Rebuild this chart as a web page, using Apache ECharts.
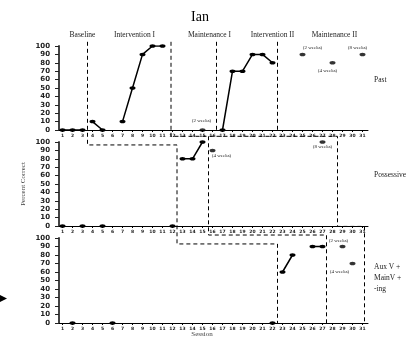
<!DOCTYPE html>
<html><head><meta charset="utf-8">
<script src="https://cdn.jsdelivr.net/npm/echarts@6/dist/echarts.min.js"></script>
<style>html,body{margin:0;padding:0;background:#fff}#c{width:411px;height:338px}</style>
</head><body><div id="c"></div>
<script>
const N = null;
const sessions = [1,2,3,4,5,6,7,8,9,10,11,12,13,14,15,16,17,18,19,20,21,22,23,24,25,26,27,28,29,30,31];
const yTicks = [0,10,20,30,40,50,60,70,80,90,100];
const title = 'Ian';
const phaseNames = ['Baseline','Intervention I','Maintenance I','Intervention II','Maintenance II'];
const panelNames = ['Past','Possessive','Aux V +\nMainV +\n-ing'];
//                 1 2 3 4  5 6 7  8  9  10  11  12 13 14 15  16 17 18 19 20 21 22 23 24 25 26 27 28 29 30 31
const pastBaseline  = [0,0,0,N, N,N,N, N, N, N,  N,  N, N, N, N,  N, N, N, N, N, N, N, N, N, N, N, N, N, N, N, N];
const pastTreatment = [N,N,N,10,0,N,10,50,90,100,100,N, N, N, N,  N, 0,70,70,90,90,80, N, N, N, N, N, N, N, N, N];
const pastProbes    = [N,N,N,N, N,N,N, N, N, N,  N,  N, N, N, 0,  N, N, N, N, N, N, N, N, N,90, N, N,80, N, N,90];
const possBaseline  = [0,N,0,N, 0,N,N, N, N, N,  N,  0, N, N, N,  N, N, N, N, N, N, N, N, N, N, N, N, N, N, N, N];
const possTreatment = [N,N,N,N, N,N,N, N, N, N,  N,  N,80,80,100, N, N, N, N, N, N, N, N, N, N, N, N, N, N, N, N];
const possProbes    = [N,N,N,N, N,N,N, N, N, N,  N,  N, N, N, N, 90, N, N, N, N, N, N, N, N, N, N,100,N, N, N, N];
const auxBaseline   = [N,0,N,N, N,0,N, N, N, N,  N,  N, N, N, N,  N, N, N, N, N, N, 0, N, N, N, N, N, N, N, N, N];
const auxTreatment  = [N,N,N,N, N,N,N, N, N, N,  N,  N, N, N, N,  N, N, N, N, N, N, N,60,80, N,90,90, N, N, N, N];
const auxProbes     = [N,N,N,N, N,N,N, N, N, N,  N,  N, N, N, N,  N, N, N, N, N, N, N, N, N, N, N, N, N,90,70, N];
const probeNotes = [
  {panel:0, session:15, text:'(2 weeks)'}, {panel:0, session:25, text:'(2 weeks)'},
  {panel:0, session:28, text:'(4 weeks)'}, {panel:0, session:31, text:'(8 weeks)'},
  {panel:1, session:16, text:'(4 weeks)'}, {panel:1, session:27, text:'(8 weeks)'},
  {panel:2, session:29, text:'(2 weeks)'}, {panel:2, session:30, text:'(4 weeks)'}
];

const panels = [
  {base: pastBaseline, treat: pastTreatment, probe: pastProbes},
  {base: possBaseline, treat: possTreatment, probe: possProbes},
  {base: auxBaseline, treat: auxTreatment, probe: auxProbes}
];
const probeValues = [pastProbes, possProbes, auxProbes];

const chart = echarts.init(document.getElementById('c'), null, {renderer:'canvas'});
const gridTops = [46, 142, 238];
const gridHeights = [84, 84, 85];
const serif = 'Liberation Serif';
const sans = 'DejaVu Sans';

function pairs(vals){ return sessions.map((s,i)=>[s, vals[i]===null ? '-' : vals[i]]); }
function pts(vals){ return sessions.map((s,i)=>[s, vals[i]]).filter(p=>p[1]!==null); }

const grids = [], xAxes = [], yAxes = [], series = [];
panels.forEach((p, k) => {
  grids.push({left:59, width:309, top:gridTops[k], height:gridHeights[k]});
  xAxes.push({type:'value', gridIndex:k, min:0.65, max:31.55,
    axisLine:{show:true, onZero:false, lineStyle:{color:'#000', width:1}},
    axisTick:{show:true, customValues:sessions, length:2, lineStyle:{color:'#000', width:1}},
    axisLabel:{show:true, customValues:sessions, fontSize:4.5, fontWeight:'bold', fontFamily:sans, color:'#222', margin:3},
    splitLine:{show:false}});
  yAxes.push({type:'value', gridIndex:k, min:0, max:100, interval:10,
    axisLine:{show:true, lineStyle:{color:'#444', width:2}},
    axisTick:{show:true, length:4, lineStyle:{color:'#222', width:1}},
    axisLabel:{fontSize:7, fontWeight:'bold', fontFamily:sans, color:'#222', margin:9},
    splitLine:{show:false}});
  const lineCommon = {type:'line', xAxisIndex:k, yAxisIndex:k, connectNulls:false,
    symbol:'circle', symbolSize:[6,3.5], showAllSymbol:true,
    itemStyle:{color:'#000'}, lineStyle:{color:'#000', width:1.5}, animation:false, z:5};
  series.push(Object.assign({}, lineCommon, {data: pairs(p.base)}));
  series.push(Object.assign({}, lineCommon, {data: pairs(p.treat)}));
  series.push({type:'scatter', xAxisIndex:k, yAxisIndex:k, symbol:'circle', symbolSize:[6,3.5],
    itemStyle:{color:'#000'}, data: pts(p.probe), animation:false, z:5});
});

chart.setOption({
  animation:false,
  grid: grids, xAxis: xAxes, yAxis: yAxes, series: series
});

// phase / staircase lines (data space per panel)
const dashedPaths = [
  [[0,3.5,105],[1,3.5,96.5],[1,12.45,96.5],[2,12.45,93],[2,22.5,93],[2,22.5,0]],
  [[0,11.85,105],[0,11.85,-7.5],[0,28.5,-7.5],[1,28.5,-0.5],[1,31.2,-0.5],[2,31.2,0]],
  [[0,15.6,-7.5],[2,15.6,103.5],[2,27.4,103.5],[2,27.4,0]],
  [[0,16.4,105],[0,16.4,0]],
  [[0,22.5,105],[0,22.5,0]]
];
function px(g,x,y){ return chart.convertToPixel({gridIndex:g}, [x,y]); }

const graphics = [];
dashedPaths.forEach(path => {
  graphics.push({type:'polyline', silent:true, z:3,
    shape:{points: path.map(q=>px(q[0],q[1],q[2]))},
    style:{stroke:'#000', lineWidth:1, lineDash:[4,3], fill:null}});
});

const noteOffsets = [[-1,-9],[10,-7],[-5,8],[-5,-7],[9,5],[0,5],[-4,-6],[-13,8]];
probeNotes.forEach((n,i) => {
  const v = probeValues[n.panel][n.session-1];
  const p = px(n.panel, n.session, v);
  graphics.push({type:'text', silent:true, x:p[0]+noteOffsets[i][0], y:p[1]+noteOffsets[i][1],
    style:{text:n.text, font:'5px "'+serif+'"', fill:'#222', align:'center', verticalAlign:'middle'}});
});

// title
graphics.push({type:'text', x:200, y:17, style:{text:title, font:'14px "'+serif+'"', fill:'#000', align:'center', verticalAlign:'middle'}});
// phase names
const phaseCenters = [3.0, 8.2, 15.7, 22.0, 28.2];
phaseNames.forEach((t,i) => {
  const p = px(0, phaseCenters[i], 0);
  graphics.push({type:'text', x:p[0], y:35, style:{text:t, font:'7.5px "'+serif+'"', fill:'#222', align:'center', verticalAlign:'middle'}});
});
// panel names
const panelNameY = [80, 175, 278];
panelNames.forEach((t,i) => {
  graphics.push({type:'text', x:374, y:panelNameY[i], style:{text:t, font:'7.5px "'+serif+'"', fill:'#222', align:'left', verticalAlign:'middle', lineHeight:11}});
});
// axis titles
graphics.push({type:'text', x:23, y:184, rotation:Math.PI/2, style:{text:'Percent Correct', font:'7px "'+serif+'"', fill:'#444', align:'center', verticalAlign:'middle'}});
graphics.push({type:'text', x:202, y:334, style:{text:'Session', font:'7px "'+serif+'"', fill:'#444', align:'center', verticalAlign:'middle'}});
// arrow marker
graphics.push({type:'polygon', shape:{points:[[0,295],[7,298.5],[0,302]]}, style:{fill:'#000'}});

chart.setOption({graphic: graphics});
</script></body></html>
